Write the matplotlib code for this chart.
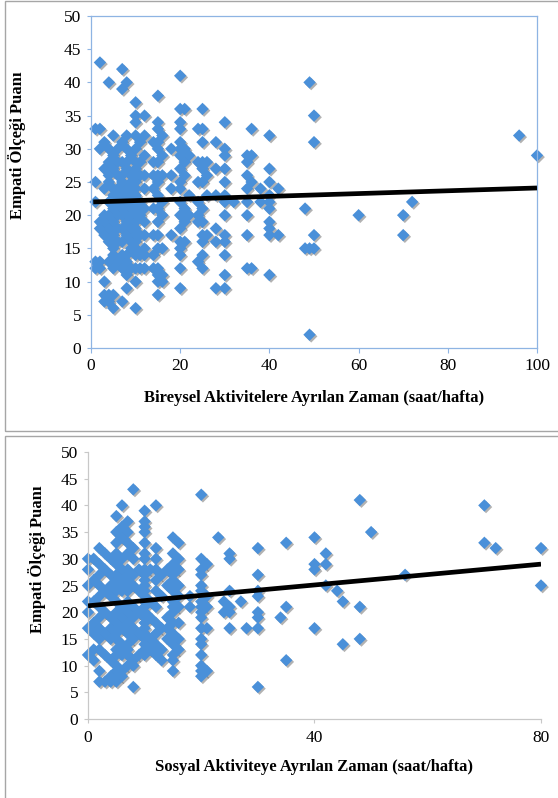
#!/usr/bin/env python
""" Empati olcegi - scatter with trend lines """

import matplotlib
matplotlib.use("Agg")
import matplotlib.pyplot as plt
import matplotlib.patheffects as pe
from matplotlib.patches import Rectangle

plt.rcParams["font.family"] = ["Liberation Serif", "DejaVu Serif"]

# Bireysel aktiviteler: (saat/hafta) -> empati puanlari, column by column
bireysel = {
    1: [33, 25, 22, 13, 12],
    2: [43, 33, 30, 19, 18, 13, 12],
    3: [31, 27, 24, 20, 19, 17, 10, 8, 7],
    4: [40, 30, 28, 26, 25, 22, 20, 18, 16, 13, 8, 7],
    5: [32, 29, 27, 24, 23, 21, 19, 17, 15, 14, 12, 8, 6],
    6: [30, 28, 26, 24, 22, 20, 18, 16, 13],
    7: [42, 39, 31, 28, 26, 25, 23, 21, 20, 18, 16, 14, 12, 7],
    8: [40, 32, 30, 28, 27, 24, 22, 20, 19, 17, 14, 13, 11, 9],
    9: [29, 26, 25, 24, 23, 21, 20, 18, 16, 15, 12],
    10: [37, 35, 34, 32, 30, 28, 27, 26, 25, 24, 23, 22, 21, 20, 19, 18,
         17, 16, 15, 14, 12, 10, 6],
    11: [31, 28, 26, 22, 20, 17, 14, 12],
    12: [35, 32, 29, 26, 24, 21, 19, 17, 15, 14, 12],
    14: [31, 28, 26, 24, 21, 17, 14, 12],
    15: [38, 34, 33, 31, 30, 28, 26, 25, 23, 21, 19, 17, 15, 12, 11, 10, 8],
    16: [32, 29, 26, 22, 20, 15, 11, 10],
    18: [30, 26, 24, 17],
    20: [41, 36, 34, 33, 31, 30, 29, 27, 25, 24, 22, 20, 18, 16, 15, 14, 12, 9],
    21: [36, 30, 28, 26, 21, 19, 16],
    22: [29, 23, 20],
    24: [33, 28, 25, 22, 20, 19, 13],
    25: [36, 33, 31, 28, 27, 25, 21, 19, 17, 16, 14, 12],
    26: [28, 26, 23, 17],
    28: [31, 27, 23, 18, 16, 9],
    30: [34, 30, 29, 27, 25, 23, 22, 20, 17, 16, 14, 11, 9],
    32: [22],
    35: [29, 28, 26, 24, 22, 20, 17, 12],
    36: [33, 29, 25, 12],
    38: [24, 22],
    40: [32, 27, 25, 23, 22, 21, 19, 18, 17, 11],
    42: [24, 17],
    48: [21, 15],
    49: [40, 15, 2],
    50: [35, 31, 17, 15],
    60: [20],
    70: [20, 17],
    72: [22],
    96: [32],
    100: [29],
}

# Sosyal aktiviteler
sosyal = {
    0: [30, 28, 25, 22, 20, 17, 12],
    1: [30, 26, 22, 18, 16, 13, 11],
    2: [32, 29, 27, 25, 23, 21, 19, 17, 15, 13, 9, 7],
    3: [31, 28, 24, 20, 16, 12, 7],
    4: [30, 27, 25, 23, 19, 17, 15, 11, 8, 7],
    5: [38, 35, 33, 31, 29, 27, 26, 25, 24, 22, 20, 18, 17, 16, 15, 13, 12,
        10, 9, 8, 7],
    6: [40, 36, 34, 30, 28, 26, 24, 21, 19, 17, 14, 12, 9, 8],
    7: [37, 35, 33, 31, 28, 27, 26, 25, 24, 22, 20, 18, 16, 14, 13, 12, 10],
    8: [43, 32, 30, 27, 25, 21, 19, 17, 15, 11, 10, 6],
    9: [28, 24, 20, 16, 12],
    10: [39, 37, 36, 35, 33, 31, 30, 28, 27, 26, 25, 24, 23, 22, 21, 20, 19,
         18, 17, 16, 15, 14, 13, 12],
    11: [28, 22, 19, 15, 13],
    12: [40, 32, 30, 28, 26, 24, 21, 18, 16, 14, 12],
    13: [27, 23, 17, 13, 11],
    14: [28, 25, 19, 17, 15],
    15: [34, 31, 29, 27, 26, 25, 24, 22, 21, 20, 18, 16, 15, 14, 12, 11, 9],
    16: [33, 30, 28, 25, 23, 21, 18, 15, 13],
    18: [23, 21],
    20: [42, 30, 28, 27, 25, 24, 22, 21, 20, 19, 17, 15, 14, 12, 10, 9, 8],
    21: [29, 23, 21, 17, 9],
    23: [34],
    24: [22, 20],
    25: [31, 30, 24, 21, 20, 17],
    27: [22],
    28: [17],
    30: [32, 27, 24, 23, 20, 19, 17, 6],
    34: [19],
    35: [33, 21, 11],
    40: [34, 29, 28, 17],
    42: [31, 29, 25],
    44: [24],
    45: [22, 14],
    48: [41, 21, 15],
    50: [35],
    56: [27],
    70: [40, 33],
    72: [32],
    80: [32, 25],
}

# Trend line end points
bireysel_trend_x = [0.5, 100]
bireysel_trend_y = [22.0, 24.1]
sosyal_trend_x = [0, 80]
sosyal_trend_y = [21.2, 29.0]

ylabel = "Empati Ölçeği Puanı"
bireysel_xlabel = "Bireysel Aktivitelere Ayrılan Zaman (saat/hafta)"
sosyal_xlabel = "Sosyal Aktiviteye Ayrılan Zaman (saat/hafta)"

MARKER = "#4A90D9"
SHADOW = [pe.SimplePatchShadow(offset=(1.2, -1.2), shadow_rgbFace="#555555",
                               alpha=0.45), pe.Normal()]


def flatten(d):
    xs, ys = [], []
    for k, vals in d.items():
        for v in vals:
            xs.append(k)
            ys.append(v)
    return xs, ys


def main():
    fig = plt.figure(figsize=(5.58, 7.98), dpi=100)
    W, H = 558.0, 798.0

    # panel frames
    for (y0, y1) in [(1, 431), (436, 805)]:
        fig.patches.append(Rectangle((5 / W, 1 - y1 / H), 1.0, (y1 - y0) / H,
                                     transform=fig.transFigure, fill=False,
                                     edgecolor="#A6A6A6", lw=1.0))

    # ---- top chart ----
    ax = fig.add_axes([91 / W, 1 - 348 / H, 446 / W, 332 / H])
    bx, by = flatten(bireysel)
    ax.scatter(bx, by, marker="D", s=40, c=MARKER, linewidths=0,
               path_effects=SHADOW, zorder=2, clip_on=False)
    ax.plot(bireysel_trend_x, bireysel_trend_y, color="black", lw=3.4,
            solid_capstyle="butt", zorder=3)
    ax.set_xlim(0, 100)
    ax.set_ylim(0, 50)
    ax.set_xticks(range(0, 101, 20))
    ax.set_yticks(range(0, 51, 5))
    for s in ax.spines.values():
        s.set_color("#8EB4E3")
        s.set_linewidth(0.9)
    ax.tick_params(axis="x", direction="out", length=3.5, width=0.8,
                   color="#8EB4E3", labelsize=12.5, pad=4)
    ax.tick_params(axis="y", direction="out", length=3, width=0.8,
                   color="#8EB4E3", labelsize=12.5, pad=4)
    ax.set_xlabel(bireysel_xlabel, fontsize=12, fontweight="bold")
    ax.xaxis.set_label_coords(0.5, -0.125)
    ax.set_ylabel(ylabel, fontsize=12, fontweight="bold")
    ax.yaxis.set_label_coords(-0.145, 0.61)

    # ---- bottom chart ----
    ax2 = fig.add_axes([88 / W, 1 - 719 / H, 453 / W, 267 / H])
    sx, sy = flatten(sosyal)
    ax2.scatter(sx, sy, marker="D", s=40, c=MARKER, linewidths=0,
                path_effects=SHADOW, zorder=2, clip_on=False)
    ax2.plot(sosyal_trend_x, sosyal_trend_y, color="black", lw=3.4,
             solid_capstyle="butt", zorder=3)
    ax2.set_xlim(0, 80)
    ax2.set_ylim(0, 50)
    ax2.set_xticks([0, 40, 80])
    ax2.set_yticks(range(0, 51, 5))
    ax2.spines["top"].set_visible(False)
    ax2.spines["right"].set_visible(False)
    for k in ("left", "bottom"):
        ax2.spines[k].set_color("#C8C8C8")
        ax2.spines[k].set_linewidth(0.9)
    ax2.tick_params(axis="x", direction="out", length=3, width=0.8,
                    color="#C8C8C8", labelsize=12.5, pad=5)
    ax2.tick_params(axis="y", direction="out", length=3, width=0.8,
                    color="#C8C8C8", labelsize=12.5, pad=4)
    ax2.set_xlabel(sosyal_xlabel, fontsize=12, fontweight="bold")
    ax2.xaxis.set_label_coords(0.5, -0.15)
    ax2.set_ylabel(ylabel, fontsize=12, fontweight="bold")
    ax2.yaxis.set_label_coords(-0.093, 0.60)

    fig.savefig("out.png", dpi=100)


if __name__ == "__main__":
    main()
